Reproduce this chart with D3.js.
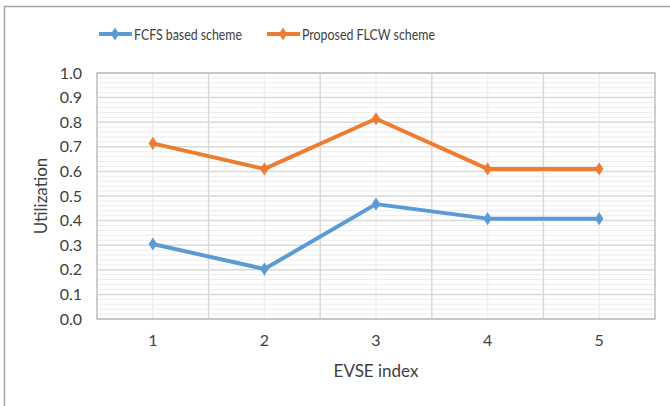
<!DOCTYPE html>
<html>
<head>
<meta charset="utf-8">
<script src="https://cdn.jsdelivr.net/npm/d3@7"></script>
<style>
  body { margin: 0; background: #fff; }
  text { font-family: Lato, "Liberation Sans", sans-serif; fill: #404040; }
</style>
</head>
<body>
<svg id="chart" width="670" height="406"></svg>
<script>
// chart data
const categories = ["1", "2", "3", "4", "5"];
const fcfsValues = [0.305, 0.203, 0.467, 0.408, 0.408];
const flcwValues = [0.714, 0.61, 0.814, 0.61, 0.61];
const yTicks = [0, 0.1, 0.2, 0.3, 0.4, 0.5, 0.6, 0.7, 0.8, 0.9, 1.0];
const seriesNames = ["FCFS based scheme", "Proposed FLCW scheme"];
const seriesColors = ["#5b9bd5", "#ed7d31"];

const svg = d3.select("#chart");

// outer chart frame
svg.append("rect")
    .attr("x", 4.5).attr("y", 6.5)
    .attr("width", 700).attr("height", 420)
    .attr("fill", "none").attr("stroke", "#a6a6a6").attr("stroke-width", 1.5);

const plot = { left: 97, right: 655, top: 73, bottom: 319 };

const x = d3.scaleBand().domain(categories).range([plot.left, plot.right]);
const y = d3.scaleLinear().domain([0, 1]).range([plot.bottom, plot.top]);

const grid = svg.append("g");

// minor horizontal gridlines every 0.02
grid.selectAll(".minor-h")
    .data(d3.range(0, 50).map(i => i * 0.02).filter(v => Math.round(v * 50) % 5 !== 0))
    .enter().append("line")
    .attr("x1", plot.left).attr("x2", plot.right)
    .attr("y1", d => y(d)).attr("y2", d => y(d))
    .attr("stroke", "#ececec").attr("stroke-width", 1);

// minor vertical gridlines at category centres
grid.selectAll(".minor-v")
    .data(categories)
    .enter().append("line")
    .attr("x1", d => x(d) + x.bandwidth() / 2).attr("x2", d => x(d) + x.bandwidth() / 2)
    .attr("y1", plot.top).attr("y2", plot.bottom)
    .attr("stroke", "#efefef").attr("stroke-width", 1.5);

// major horizontal gridlines
grid.selectAll(".major-h")
    .data(yTicks)
    .enter().append("line")
    .attr("x1", plot.left).attr("x2", plot.right)
    .attr("y1", d => y(d)).attr("y2", d => y(d))
    .attr("stroke", "#d9d9d9").attr("stroke-width", 1.5);

// major vertical gridlines at band edges
grid.selectAll(".major-v")
    .data(categories.slice(1))
    .enter().append("line")
    .attr("x1", d => x(d)).attr("x2", d => x(d))
    .attr("y1", plot.top).attr("y2", plot.bottom)
    .attr("stroke", "#d9d9d9").attr("stroke-width", 1.5);

// plot area border
svg.append("rect")
    .attr("x", plot.left).attr("y", plot.top)
    .attr("width", plot.right - plot.left).attr("height", plot.bottom - plot.top)
    .attr("fill", "none").attr("stroke", "#bfbfbf").attr("stroke-width", 1.5);

// y axis labels
const yAxis = svg.append("g")
    .attr("transform", `translate(${plot.left},0)`)
    .call(d3.axisLeft(y).tickValues(yTicks).tickFormat(d3.format(".1f")).tickSize(0).tickPadding(15));
yAxis.select(".domain").remove();
yAxis.selectAll("text").style("font-size", "16px").attr("fill", "#404040");

// x axis labels
const xAxis = svg.append("g")
    .attr("transform", `translate(0,${plot.bottom})`)
    .call(d3.axisBottom(x).tickSize(0).tickPadding(16));
xAxis.select(".domain").remove();
xAxis.selectAll("text").style("font-size", "16px").attr("fill", "#404040");

// axis titles
svg.append("text")
    .attr("transform", `translate(47,${(plot.top + plot.bottom) / 2}) rotate(-90)`)
    .attr("text-anchor", "middle")
    .style("font-size", "17px")
    .text("Utilization");

svg.append("text")
    .attr("x", (plot.left + plot.right) / 2).attr("y", 377)
    .attr("text-anchor", "middle")
    .style("font-size", "17px")
    .text("EVSE index");

// series lines + diamond markers
const line = d3.line()
    .x((d, i) => x(categories[i]) + x.bandwidth() / 2)
    .y(d => y(d));

const diamond = d3.symbol().type(d3.symbolDiamond).size(50);

[fcfsValues, flcwValues].forEach((values, s) => {
    svg.append("path")
        .datum(values)
        .attr("d", line)
        .attr("fill", "none")
        .attr("stroke", seriesColors[s])
        .attr("stroke-width", 4)
        .attr("stroke-linejoin", "round");

    svg.selectAll(".pt" + s)
        .data(values)
        .enter().append("path")
        .attr("d", diamond)
        .attr("transform", (d, i) => `translate(${x(categories[i]) + x.bandwidth() / 2},${y(d)}) scale(1.1,1)`)
        .attr("fill", seriesColors[s]);
});

// legend
const legendItems = [{ x: 99, name: seriesNames[0], color: seriesColors[0], w: 108 },
                     { x: 267, name: seriesNames[1], color: seriesColors[1], w: 133 }];
const legend = svg.append("g");
legendItems.forEach(item => {
    legend.append("line")
        .attr("x1", item.x).attr("x2", item.x + 33)
        .attr("y1", 34).attr("y2", 34)
        .attr("stroke", item.color).attr("stroke-width", 4);
    legend.append("path")
        .attr("d", diamond)
        .attr("transform", `translate(${item.x + 16},34) scale(1.1,1)`)
        .attr("fill", item.color);
    legend.append("text")
        .attr("x", item.x + 35).attr("y", 39.5)
        .attr("textLength", item.w)
        .attr("lengthAdjust", "spacingAndGlyphs")
        .style("font-size", "15px")
        .text(item.name);
});
</script>
</body>
</html>
